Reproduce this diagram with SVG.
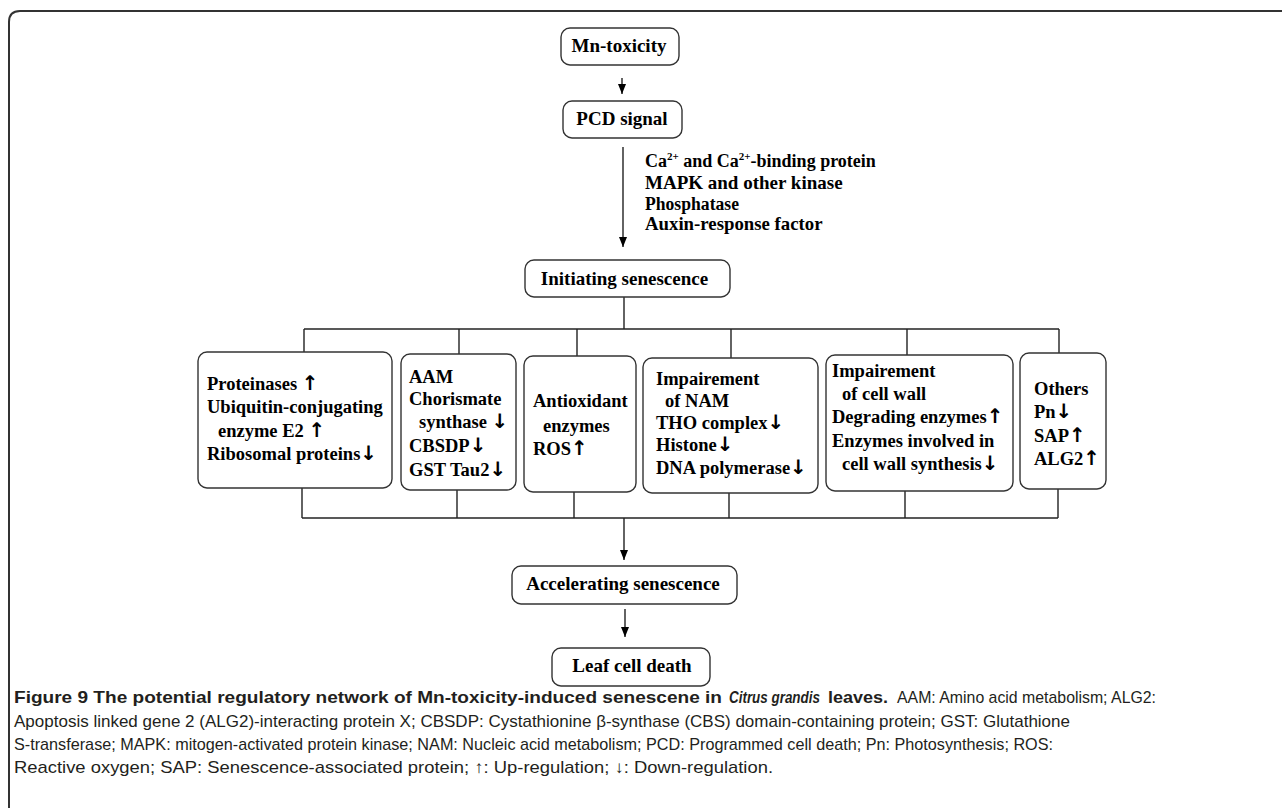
<svg xmlns="http://www.w3.org/2000/svg" width="1282" height="808" viewBox="0 0 1282 808">
<style>
.frame{fill:none;stroke:#333;stroke-width:2}
.box{fill:#fff;stroke:#333;stroke-width:1.4}
.ln{fill:none;stroke:#222;stroke-width:1.4}
.t{font-family:"Liberation Serif","Times New Roman",serif;font-weight:bold;fill:#000}
.n19{font-size:19px}
.b{font-size:18.5px}
.ar{font-family:"DejaVu Sans",sans-serif;font-weight:bold;font-size:20px;fill:#000}
.cap{font-family:"Liberation Sans",Arial,sans-serif;font-size:17px;fill:#231f20}
.cb{font-weight:bold}
.ci{font-weight:bold;font-style:italic}
</style>
<defs>
<marker id="ah" markerUnits="userSpaceOnUse" markerWidth="8" markerHeight="10" viewBox="0 0 8 10" refX="4" refY="10" orient="0">
<path d="M0,0 L8,0 L4,10 z" fill="#000"/>
</marker>
</defs>
<rect width="1282" height="808" fill="#fff"/>
<path class="frame" d="M9,808 L9,22 Q9,11 20,11 L1282,11"/>

<g id="connectors">
<line class="ln" x1="622" y1="78" x2="622" y2="94" marker-end="url(#ah)"/>
<line class="ln" x1="623" y1="147" x2="623" y2="247" marker-end="url(#ah)"/>
<line class="ln" x1="624" y1="297" x2="624" y2="329"/>
<line class="ln" x1="304" y1="329" x2="1059" y2="329"/>
<line class="ln" x1="304" y1="329" x2="304" y2="352"/>
<line class="ln" x1="459" y1="329" x2="459" y2="354"/>
<line class="ln" x1="577" y1="329" x2="577" y2="356"/>
<line class="ln" x1="731" y1="329" x2="731" y2="358"/>
<line class="ln" x1="907" y1="329" x2="907" y2="355"/>
<line class="ln" x1="1059" y1="329" x2="1059" y2="353"/>
<line class="ln" x1="302" y1="488" x2="302" y2="518"/>
<line class="ln" x1="457" y1="490" x2="457" y2="518"/>
<line class="ln" x1="574" y1="492" x2="574" y2="518"/>
<line class="ln" x1="729" y1="493" x2="729" y2="518"/>
<line class="ln" x1="905" y1="491" x2="905" y2="518"/>
<line class="ln" x1="1058" y1="489" x2="1058" y2="518"/>
<line class="ln" x1="302" y1="518" x2="1058" y2="518"/>
<line class="ln" x1="624" y1="518" x2="624" y2="560" marker-end="url(#ah)"/>
<line class="ln" x1="625" y1="609" x2="625" y2="637" marker-end="url(#ah)"/>
<g id="signals" class="t">
<text x="645" y="167" font-size="18">Ca<tspan dy="-7" font-size="11">2+</tspan><tspan dy="7"> and Ca</tspan><tspan dy="-7" font-size="11">2+</tspan><tspan dy="7">-binding protein</tspan></text>
<text x="645" y="189" class="n19">MAPK and other kinase</text>
<text x="645" y="210" font-size="18" textLength="94" lengthAdjust="spacingAndGlyphs">Phosphatase</text>
<text x="645" y="230" font-size="18.8">Auxin-response factor</text>
</g>
</g>

<g id="mn-toxicity">
<rect class="box" x="561" y="28" width="118" height="37" rx="9"/>
<text class="t n19" x="619" y="52" text-anchor="middle">Mn-toxicity</text>
</g>
<g id="pcd-signal">
<rect class="box" x="563" y="101" width="119" height="37" rx="9"/>
<text class="t n19" x="622" y="125" text-anchor="middle">PCD signal</text>
</g>
<g id="initiating">
<rect class="box" x="525" y="260" width="205" height="37" rx="9"/>
<text class="t n19" x="624.5" y="285" text-anchor="middle">Initiating senescence</text>
</g>

<g id="proteins">
<rect class="box" x="198" y="352" width="194" height="136" rx="9"/>
<text class="t b" x="207" y="390">Proteinases <tspan class="ar">↑</tspan></text>
<text class="t b" x="207" y="413">Ubiquitin-conjugating</text>
<text class="t b" x="218" y="437">enzyme E2 <tspan class="ar">↑</tspan></text>
<text class="t b" x="207" y="460">Ribosomal proteins<tspan class="ar">↓</tspan></text>
</g>
<g id="aam">
<rect class="box" x="401" y="354" width="115" height="136" rx="9"/>
<text class="t b" x="409" y="383">AAM</text>
<text class="t b" x="409" y="405">Chorismate</text>
<text class="t b" x="419" y="428">synthase <tspan class="ar">↓</tspan></text>
<text class="t b" x="409" y="452">CBSDP<tspan class="ar">↓</tspan></text>
<text class="t b" x="409" y="476">GST Tau2<tspan class="ar">↓</tspan></text>
</g>
<g id="antioxidant">
<rect class="box" x="524" y="356" width="112" height="136" rx="9"/>
<text class="t b" x="533" y="407">Antioxidant</text>
<text class="t b" x="543" y="432">enzymes</text>
<text class="t b" x="533" y="455">ROS<tspan class="ar">↑</tspan></text>
</g>
<g id="nam">
<rect class="box" x="643" y="358" width="175" height="135" rx="9"/>
<text class="t b" x="656" y="385">Impairement</text>
<text class="t b" x="665" y="407">of NAM</text>
<text class="t b" x="656" y="429">THO complex<tspan class="ar">↓</tspan></text>
<text class="t b" x="656" y="451">Histone<tspan class="ar">↓</tspan></text>
<text class="t b" x="656" y="474">DNA polymerase<tspan class="ar">↓</tspan></text>
</g>
<g id="cell-wall">
<rect class="box" x="826" y="355" width="187" height="136" rx="9"/>
<text class="t b" x="832" y="377">Impairement</text>
<text class="t b" x="842" y="400">of cell wall</text>
<text class="t b" x="832" y="423">Degrading enzymes<tspan class="ar">↑</tspan></text>
<text class="t b" x="832" y="447">Enzymes involved in</text>
<text class="t b" x="842" y="470">cell wall synthesis<tspan class="ar">↓</tspan></text>
</g>
<g id="others">
<rect class="box" x="1020" y="353" width="86" height="136" rx="9"/>
<text class="t b" x="1034" y="395">Others</text>
<text class="t b" x="1034" y="418">Pn<tspan class="ar">↓</tspan></text>
<text class="t b" x="1034" y="442">SAP<tspan class="ar">↑</tspan></text>
<text class="t b" x="1034" y="465">ALG2<tspan class="ar">↑</tspan></text>
</g>

<g id="accelerating">
<rect class="box" x="512" y="566" width="225" height="38" rx="9"/>
<text class="t n19" x="623" y="590" text-anchor="middle">Accelerating senescence</text>
</g>
<g id="leaf-death">
<rect class="box" x="552" y="648" width="158" height="38" rx="9"/>
<text class="t n19" x="632" y="672" text-anchor="middle">Leaf cell death</text>
</g>

<g id="caption" class="cap">
<text class="cb" x="14" y="703" textLength="708" lengthAdjust="spacingAndGlyphs">Figure 9 The potential regulatory network of Mn-toxicity-induced senescene in</text>
<text class="ci" transform="translate(729,703) scale(0.79,1)">Citrus grandis</text>
<text class="cb" x="828" y="703" textLength="60" lengthAdjust="spacingAndGlyphs">leaves.</text>
<text x="897" y="703" textLength="259" lengthAdjust="spacingAndGlyphs">AAM: Amino acid metabolism; ALG2:</text>
<text x="14" y="727" textLength="1056" lengthAdjust="spacingAndGlyphs">Apoptosis linked gene 2 (ALG2)-interacting protein X; CBSDP: Cystathionine β-synthase (CBS) domain-containing protein; GST: Glutathione</text>
<text x="14" y="750" textLength="1039" lengthAdjust="spacingAndGlyphs">S-transferase; MAPK: mitogen-activated protein kinase; NAM: Nucleic acid metabolism; PCD: Programmed cell death; Pn: Photosynthesis; ROS:</text>
<text x="14" y="773" textLength="759" lengthAdjust="spacingAndGlyphs">Reactive oxygen; SAP: Senescence-associated protein; ↑: Up-regulation; ↓: Down-regulation.</text>
</g>
</svg>
